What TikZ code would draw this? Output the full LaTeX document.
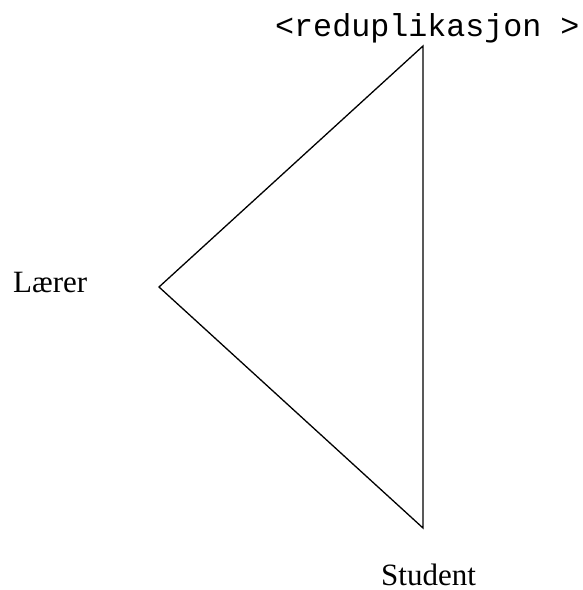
\documentclass[tikz,border=0pt]{standalone}
\usepackage{fontspec}
\setmainfont{Liberation Serif}
\setmonofont{Liberation Mono}
\begin{document}
\begin{tikzpicture}[x=1pt,y=-1pt,
  lbl/.style={inner sep=0pt,font=\fontsize{31}{34}\selectfont},
  mlbl/.style={inner sep=0pt,font=\fontsize{31.7}{36}\selectfont\ttfamily},
  edge/.style={line width=1.3pt,line join=miter}]
\useasboundingbox (0,0) rectangle (582,590);
\coordinate (T) at (423,46);
\coordinate (L) at (159,287);
\coordinate (B) at (423,528);
\node[mlbl,anchor=base west] (top) at (275,36) {<reduplikasjon >};
\node[lbl,anchor=base west] (laerer) at (13,292) {Lærer};
\node[lbl,anchor=base west,text depth=0pt] (student) at (381,585) {Student};
\draw[edge] (T) -- (L) -- (B) -- cycle;
\end{tikzpicture}
\end{document}
